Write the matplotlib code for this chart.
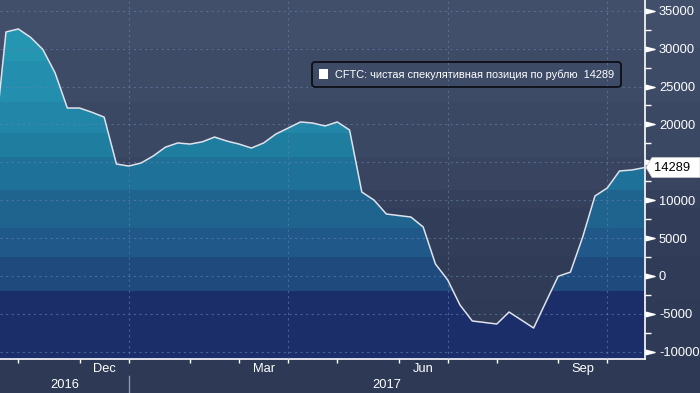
import matplotlib
matplotlib.use("Agg")
import matplotlib.pyplot as plt
import matplotlib.dates as mdates
import matplotlib.transforms as mtransforms
from matplotlib.patches import Rectangle, Polygon, FancyBboxPatch
import pandas as pd

plt.rcParams['font.family'] = ['Liberation Sans', 'DejaVu Sans']

# ---------------- data ----------------
series_name = "CFTC: чистая спекулятивная позиция по рублю"
last_value_label = "14289"
dates = pd.date_range("2016-10-18", periods=54, freq="7D")
values = [16500, 32200, 32600, 31500, 29900, 26800, 22160, 22160, 21600, 20960,
          14770, 14500, 14900, 15830, 17000, 17550, 17400, 17700, 18330, 17800,
          17400, 16880, 17550, 18730, 19520, 20320, 20180, 19790, 20320, 19260,
          11070, 10000, 8170, 7970, 7770, 6460, 1570, -540, -3840, -5950,
          -6150, -6350, -4770, -5820, -6880, -3450, -50, 500, 5130, 10550,
          11600, 13850, 13980, 14289]
y_ticks = list(range(-10000, 35001, 5000))
month_labels = ["Dec", "Mar", "Jun", "Sep"]
year_labels = ["2016", "2017"]

# ---------------- styles ----------------
W, H = 700, 393
fig = plt.figure(figsize=(W / 100, H / 100), dpi=100)

# background (pixel coordinates)
bg = fig.add_axes([0, 0, 1, 1], zorder=0)
bg.set_xlim(0, W); bg.set_ylim(H, 0); bg.axis("off")
bg_edges = [0, 48, 102, 157, 190, 208, 257, 300, 359]
bg_cols = ['#414f6a', '#3e4b67', '#3b4864', '#384460', '#35415c', '#323e59', '#303c57', '#2f3b56']
for (a, b), c in zip(zip(bg_edges[:-1], bg_edges[1:]), bg_cols):
    bg.add_patch(Rectangle((0, a), W, b - a, color=c, lw=0))
bg.add_patch(Rectangle((0, 359), W, H - 359, color='#2e3a55', lw=0))

ax = fig.add_axes([0, 34 / H, 645 / W, 359 / H], zorder=1)
ax.patch.set_alpha(0)
ylo, yhi = -10970, 36420
ax.set_ylim(ylo, yhi)
x0 = mdates.date2num(dates[1]) - 3.42
x1 = mdates.date2num(dates[-1]) + 0.55
ax.set_xlim(x0, x1)

xnum = mdates.date2num(dates)
poly = ax.fill_between(xnum, values, ylo, color='none', lw=0)
clip = poly.get_paths()[0]

fill_edges = [yhi, 28400, 22900, 18800, 15700, 11300, 6300, 2500, -2000, ylo]
fill_cols = ['#2596b2', '#238ead', '#2186a7', '#1f7da0', '#1e7198', '#1f638f',
             '#20588a', '#1e4a7e', '#1c2e6a']
for (a, b), c in zip(zip(fill_edges[:-1], fill_edges[1:]), fill_cols):
    sp = ax.axhspan(b, a, color=c, lw=0, zorder=1)
    sp.set_clip_path(clip, ax.transData)

ax.plot(xnum, values, color='#dfe2ea', lw=1.1, zorder=5)

# ticks on x: first observation of each month
s = pd.Series(dates)
month_first = s.groupby([s.dt.year, s.dt.month]).first().tolist()
month_first_num = [mdates.date2num(d) for d in month_first if x0 <= mdates.date2num(d) <= x1]
quarter_num = [mdates.date2num(d) for d in month_first if d.month in (1, 4, 7, 10) and x0 <= mdates.date2num(d) <= x1]

for y in y_ticks:
    ax.axhline(y, color='#6584ad', lw=0.8, ls=(0, (2, 3)), alpha=0.6, zorder=3)
for xq in quarter_num:
    ax.axvline(xq, color='#6584ad', lw=0.8, ls=(0, (2, 3)), alpha=0.6, zorder=3)

for side in ['top', 'left']:
    ax.spines[side].set_visible(False)
ax.spines['right'].set_color('white')
ax.spines['bottom'].set_color('white')
ax.spines['right'].set_linewidth(1.2)
ax.spines['bottom'].set_linewidth(1.2)

ax.set_xticks(month_first_num)
ax.set_xticklabels([])
ax.tick_params(axis='x', colors='white', length=3, width=1, direction='out')

ax.yaxis.tick_right()
ax.set_yticks(y_ticks)
ax.set_yticklabels([str(v) for v in y_ticks], fontsize=9.3, color='white')
ax.set_yticks([v + 2500 for v in y_ticks[:-1]], minor=True)
ax.tick_params(axis='y', which='major', length=0, pad=10, labelcolor='white')
ax.tick_params(axis='y', which='minor', length=4, width=1, color='white')

# triangle markers at major y ticks
tri = [(-1, -0.5), (-1, 0.5), (1, 0), (-1, -0.5)]
off = mtransforms.ScaledTranslation(0.045, 0, fig.dpi_scale_trans)
btr = mtransforms.blended_transform_factory(ax.transAxes, ax.transData) + off
ax.plot([1] * len(y_ticks), y_ticks, ls='none', marker=tri, ms=6.5, color='white',
        mec='white', transform=btr, clip_on=False, zorder=6)
tickline_tr = mtransforms.blended_transform_factory(ax.transAxes, ax.transData)
for y in y_ticks:
    ax.plot([1, 1.008], [y, y], color='white', lw=1, transform=tickline_tr, clip_on=False)

# month and year labels
ftr = mtransforms.blended_transform_factory(ax.transData, fig.transFigure)
label_months = {"Dec": 12, "Mar": 3, "Jun": 6, "Sep": 9}
for lab in month_labels:
    m = label_months[lab]
    idx = [i for i, d in enumerate(month_first) if d.month == m and x0 <= mdates.date2num(d) <= x1][0]
    xm = (mdates.date2num(month_first[idx]) + mdates.date2num(month_first[idx + 1])) / 2
    ax.text(xm, 1 - 369 / H, lab, transform=ftr, ha='center', va='center', color='white', fontsize=9.3)
jan = [mdates.date2num(d) for d in month_first if d.month == 1][0]
ax.text((x0 + jan) / 2, 1 - 385 / H, year_labels[0], transform=ftr, ha='center', va='center', color='white', fontsize=9.3)
ax.text((jan + x1) / 2, 1 - 385 / H, year_labels[1], transform=ftr, ha='center', va='center', color='white', fontsize=9.3)
ax.plot([jan, jan], [1 - 376 / H, 0], color='#8a93a8', lw=1, transform=ftr, clip_on=False)

# overlay (pixel coordinates): legend and last value box
ov = fig.add_axes([0, 0, 1, 1], zorder=5)
ov.set_xlim(0, W); ov.set_ylim(H, 0); ov.axis("off"); ov.patch.set_alpha(0)
ov.add_patch(FancyBboxPatch((312, 62), 309, 25, boxstyle="round,pad=0,rounding_size=3",
                            fc='none', ec='#0d0f16', lw=1.3))
ov.add_patch(Rectangle((319, 69), 9, 10, color='white', lw=0))
leg_txt = ov.text(335, 75, series_name + "  " + last_value_label, color='white', fontsize=8.5,
                  va='center', ha='left')
renderer = fig.canvas.get_renderer()
w = leg_txt.get_window_extent(renderer=renderer).width
leg_txt.set_fontsize(8.5 * 279.0 / w)
ov.add_patch(Polygon([(646, 167.5), (652, 157.5), (700, 157.5), (700, 177.5), (652, 177.5)],
                     closed=True, fc='white', ec='#cccccc', lw=0.5))
ov.text(654, 168, last_value_label, color='black', fontsize=9.3, va='center', ha='left')

fig.savefig("out.png", dpi=100)
